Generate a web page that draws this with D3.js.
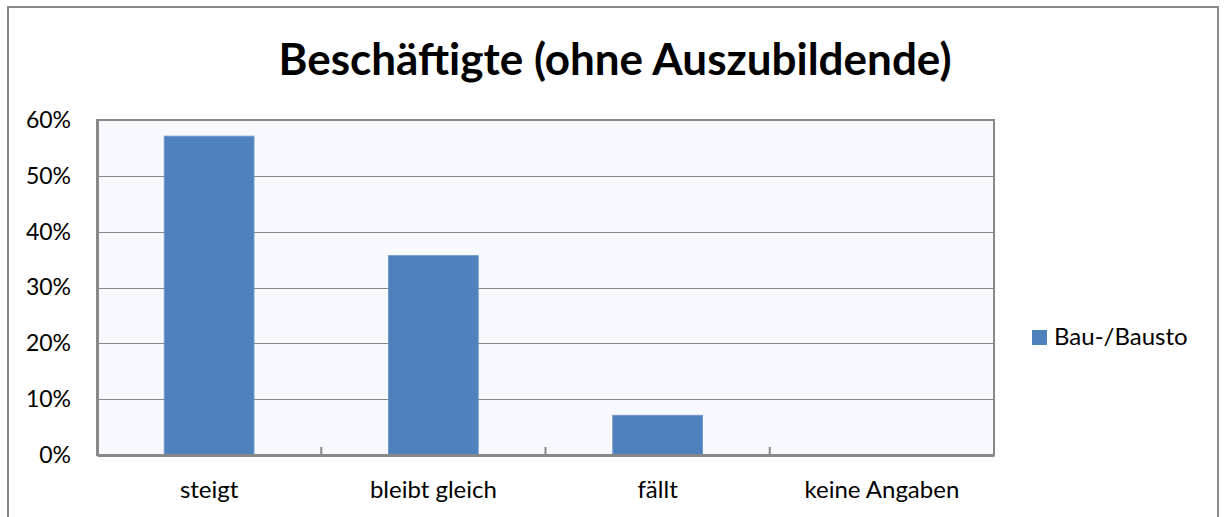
<!DOCTYPE html>
<meta charset="utf-8">
<style>
    body { margin: 0; background: #fff; }
    svg { display: block; }
    text { font-family: Lato, "Open Sans", sans-serif; fill: #000; }
</style>
<body>
<script src="https://cdn.jsdelivr.net/npm/d3@7"></script>
<script>
    var categories = ["steigt", "bleibt gleich", "fällt", "keine Angaben"];
    var seriesName = "Bau-/Bausto";
    var values = [0.571, 0.357, 0.071, 0];
    var yTicks = [0, 0.1, 0.2, 0.3, 0.4, 0.5, 0.6];
    var title = "Beschäftigte (ohne Auszubildende)";

    var width = 1226, height = 517;
    var plot = {left: 97, right: 994, top: 120, bottom: 455};

    var svg = d3.select("body").append("svg")
        .attr("width", width)
        .attr("height", height);

    // outer chart frame
    svg.append("rect")
        .attr("x", 8).attr("y", 7)
        .attr("width", 1210).attr("height", 530)
        .attr("fill", "#fff")
        .attr("stroke", "#888").attr("stroke-width", 2);

    svg.append("text")
        .attr("x", 615).attr("y", 75)
        .attr("text-anchor", "middle")
        .style("font-size", "44px").style("font-weight", "bold")
        .text(title);

    var x = d3.scaleBand()
        .domain(categories)
        .range([plot.left, plot.right])
        .paddingInner(0.6)
        .paddingOuter(0.3);

    var y = d3.scaleLinear()
        .domain([0, 0.6])
        .range([plot.bottom, plot.top]);

    svg.append("rect")
        .attr("x", plot.left).attr("y", plot.top)
        .attr("width", plot.right - plot.left)
        .attr("height", plot.bottom - plot.top)
        .attr("fill", "#f8f9fe");

    // gridlines
    svg.append("g")
        .selectAll("line")
        .data(yTicks.slice(1, -1))
        .enter().append("line")
        .attr("x1", plot.left).attr("x2", plot.right)
        .attr("y1", function(d) { return Math.round(y(d)) + 0.5; })
        .attr("y2", function(d) { return Math.round(y(d)) + 0.5; })
        .attr("stroke", "#868686").attr("stroke-width", 1);

    // bars
    svg.append("g")
        .selectAll("rect")
        .data(values)
        .enter().append("rect")
        .attr("x", function(d, i) { return x(categories[i]); })
        .attr("y", function(d) { return y(d); })
        .attr("width", x.bandwidth())
        .attr("height", function(d) { return plot.bottom - y(d); })
        .attr("fill", "#4f81bd")
        .attr("stroke", function(d) { return d > 0 ? "#6f97cb" : "none"; })
        .attr("stroke-width", 1);

    // plot frame
    svg.append("rect")
        .attr("x", plot.left).attr("y", plot.top)
        .attr("width", plot.right - plot.left)
        .attr("height", plot.bottom - plot.top)
        .attr("fill", "none")
        .attr("stroke", "#888").attr("stroke-width", 2);

    // y axis
    var yAxis = svg.append("g")
        .attr("transform", "translate(" + plot.left + ",0)")
        .call(d3.axisLeft(y).tickValues(yTicks).tickFormat(d3.format(".0%")).tickSize(0).tickPadding(26));
    yAxis.select(".domain").attr("stroke", "#888").attr("stroke-width", 3);
    yAxis.selectAll("text").style("font-size", "23px").style("font-family", "Lato, 'Open Sans', sans-serif");

    // x axis with ticks between categories
    var step = x.step();
    var xAxis = svg.append("g")
        .attr("transform", "translate(0," + plot.bottom + ")")
        .call(d3.axisBottom(x).tickSize(0).tickPadding(26));
    xAxis.select(".domain").attr("stroke", "#888").attr("stroke-width", 3);
    xAxis.selectAll("text").style("font-size", "24px").style("font-family", "Lato, 'Open Sans', sans-serif");
    xAxis.selectAll(".sep")
        .data(d3.range(1, categories.length))
        .enter().append("line")
        .attr("class", "sep")
        .attr("x1", function(i) { return plot.left + i * step; })
        .attr("x2", function(i) { return plot.left + i * step; })
        .attr("y1", 0).attr("y2", -8)
        .attr("stroke", "#888").attr("stroke-width", 2);

    // legend
    var legend = svg.append("g").attr("transform", "translate(1032,330)");
    legend.append("rect")
        .attr("width", 15).attr("height", 15)
        .attr("fill", "#4f81bd");
    legend.append("text")
        .attr("x", 22).attr("y", 15)
        .style("font-size", "24px")
        .text(seriesName);
</script>
</body>
